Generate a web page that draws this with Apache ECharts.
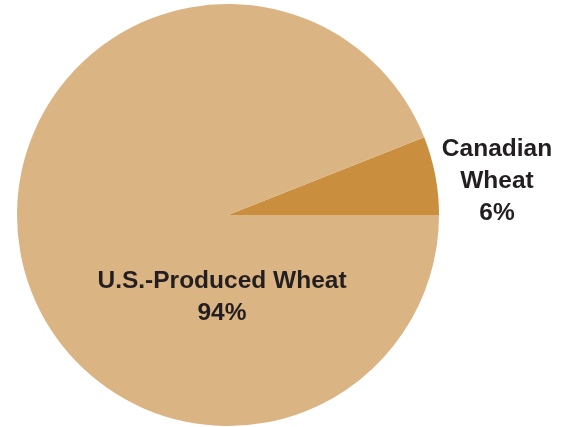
<!DOCTYPE html>
<html>
<head>
<meta charset="utf-8">
<script src="https://cdn.jsdelivr.net/npm/echarts@6/dist/echarts.min.js"></script>
<style>
    html, body { margin: 0; padding: 0; background: #fff; }
    #chart { width: 566px; height: 427px; }
</style>
</head>
<body>
<div id="chart"></div>
<script>
    // 数据
    var categories = ["Canadian\nWheat", "U.S.-Produced Wheat"];
    var shares = [6, 94];
    var colors = ["#C98F3F", "#DBB483"];

    var chart = echarts.init(document.getElementById("chart"));
    var option = {
        animation: false,
        series: [
            {
                type: "pie",
                center: [228, 215],
                radius: 211,
                startAngle: 0,
                clockwise: false,
                silent: true,
                data: categories.map(function (name, i) {
                    return { name: name, value: shares[i], itemStyle: { color: colors[i] } };
                }),
                label: {
                    show: true,
                    position: "inside",
                    formatter: "{b}\n{c}%",
                    color: "#231f20",
                    fontFamily: "Liberation Sans",
                    fontWeight: "bold",
                    fontSize: 24.5,
                    lineHeight: 32,
                    align: "center",
                },
                labelLine: { show: false },
                // 标签位置
                labelLayout: function (params) {
                    if (params.dataIndex === 0) {
                        return { x: 497, y: 181, align: "center", verticalAlign: "middle" };
                    }
                    return { x: 222, y: 297, align: "center", verticalAlign: "middle" };
                },
            },
        ],
    };
    chart.setOption(option);
</script>
</body>
</html>
